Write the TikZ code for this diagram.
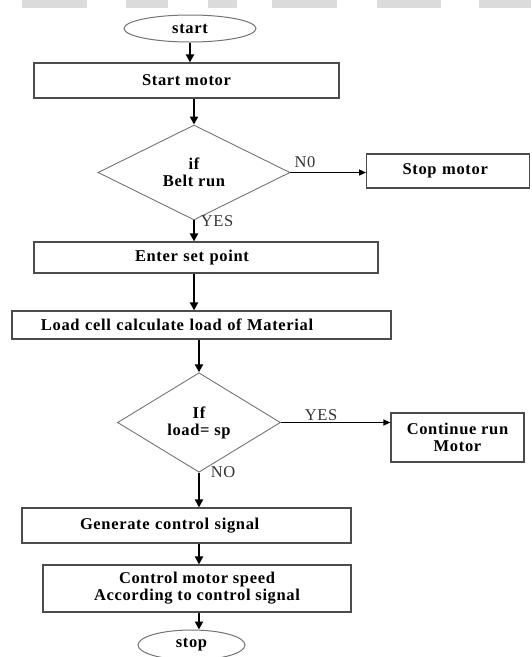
\documentclass[tikz,border=0pt]{standalone}
\usepackage{fontspec}
\setmainfont{Liberation Serif}[LetterSpace=4]
\usetikzlibrary{arrows.meta,shapes.geometric}

\begin{document}
\begin{tikzpicture}[x=1pt,y=-1pt,
  every node/.style={font=\fontsize{16.5}{17}\selectfont\bfseries},
  procbox/.style={draw=black!70, line width=1.2pt, inner sep=0pt},
  termin/.style={ellipse, draw=black!55, line width=1pt, inner sep=0pt},
  decide/.style={diamond, draw=black!55, line width=0.9pt, inner sep=1pt, align=center},
  flow/.style={line width=2pt, -{Triangle[length=8pt,width=8pt]}},
  side/.style={line width=1.3pt, -{Triangle[length=7pt,width=6pt]}},
  answer/.style={font=\fontsize{16.5}{17}\selectfont, text=black!80, inner sep=0pt}]
\useasboundingbox (0,0) rectangle (531,657);
% header band
\foreach \a/\b in {22/87,126/168,208/237,272/337,377/441,479/531}
  \fill[black!14] (\a,0) rectangle (\b,8);
% steps
\node[termin, minimum width=132pt, minimum height=27pt] (start) at (190,28.5) {start};
\node[procbox, minimum width=305pt, minimum height=35pt] (startm) at (186.5,80.5) {Start motor};
\node[decide, minimum width=192pt, minimum height=75pt] (belt) at (194,172.5) {if\\Belt run};
\node[procbox, anchor=west, minimum height=34pt, text width=91pt, inner xsep=36pt, align=left] (stopm) at (366,171) {Stop motor};
\node[procbox, minimum height=31pt, text width=142pt, inner xsep=101pt, align=left] (setp) at (206,257.5) {Enter set point};
\node[procbox, minimum height=28pt, text width=321pt, inner xsep=29pt, align=left] (load) at (201.5,325) {Load cell calculate load of Material};
\node[decide, minimum width=163pt, minimum height=75pt] (cmp) at (199,422.5) {If\\load= sp};
\node[procbox, minimum width=133pt, minimum height=49pt, align=center] (cont) at (457.5,437.5) {Continue run\\Motor};
\node[procbox, minimum height=35pt, text width=213pt, inner xsep=58pt, align=left] (gen) at (186.5,525.5) {Generate control signal};
\node[procbox, minimum width=308pt, minimum height=47pt, align=center] (ctrl) at (197,588.5) {Control motor speed\\According to control signal};
\node[termin, minimum width=107pt, minimum height=30pt] (stop) at (191.5,645) {stop};
% answers
\node[answer] (no1) at (305,162) {N0};
\node[answer] (yes1) at (217,221) {YES};
\node[answer] (yes2) at (321,415.5) {YES};
\node[answer] (no2) at (223,472.5) {NO};
% connectors
\draw[flow] (start.south) -- (start.south |- startm.north);
\draw[flow] (belt.north |- startm.south) -- (belt.north);
\draw[side] (belt.east) -- (belt.east -| stopm.west);
\draw[flow] (belt.south) -- (belt.south |- setp.north);
\draw[flow] (belt.south |- setp.south) -- (belt.south |- load.north);
\draw[flow] (cmp.north |- load.south) -- (cmp.north);
\draw[side] (cmp.east) -- (cmp.east -| cont.west);
\draw[flow] (cmp.south) -- (cmp.south |- gen.north);
\draw[flow] (cmp.south |- gen.south) -- (cmp.south |- ctrl.north);
\draw[flow] (cmp.south |- ctrl.south) -- (cmp.south |- stop.north);
\end{tikzpicture}
\end{document}
